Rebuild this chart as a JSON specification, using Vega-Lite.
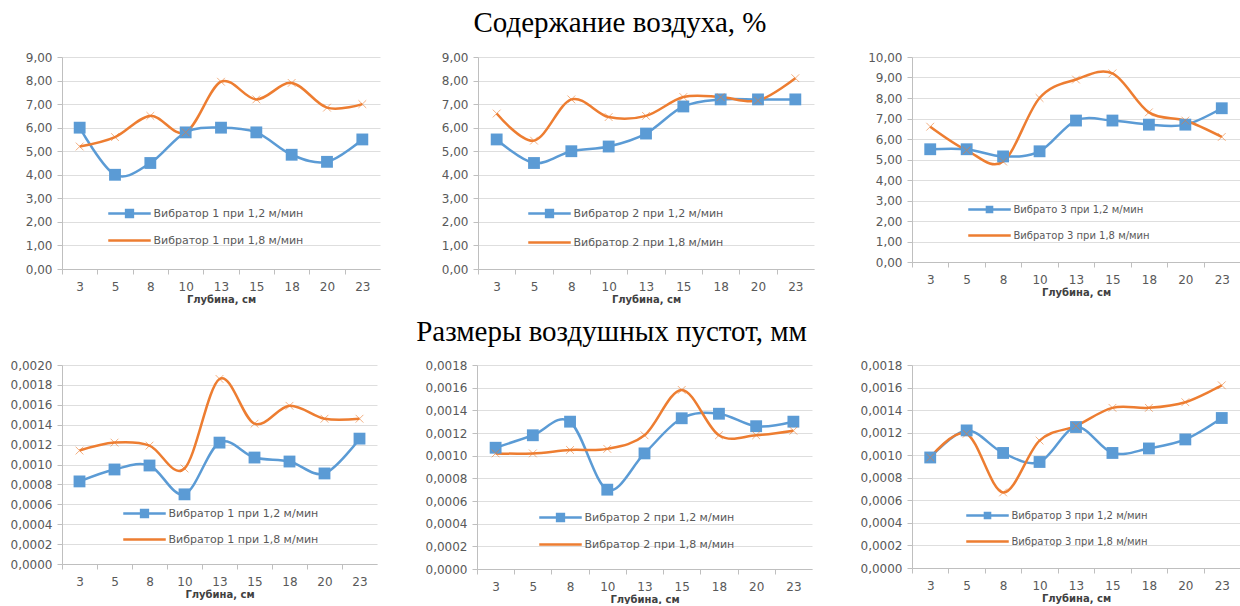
{
  "$schema": "https://vega.github.io/schema/vega-lite/v6.json",
  "background": "white",
  "padding": {"left": 10, "top": 9, "right": 0, "bottom": 0},
  "spacing": 14,
  "datasets": {
    "p1": [
      {"d": 3, "k": "a", "s": "Вибратор 1 при 1,2 м/мин", "v": 6.0},
      {"d": 5, "k": "a", "s": "Вибратор 1 при 1,2 м/мин", "v": 4.0},
      {"d": 8, "k": "a", "s": "Вибратор 1 при 1,2 м/мин", "v": 4.5},
      {"d": 10, "k": "a", "s": "Вибратор 1 при 1,2 м/мин", "v": 5.8},
      {"d": 13, "k": "a", "s": "Вибратор 1 при 1,2 м/мин", "v": 6.0},
      {"d": 15, "k": "a", "s": "Вибратор 1 при 1,2 м/мин", "v": 5.8},
      {"d": 18, "k": "a", "s": "Вибратор 1 при 1,2 м/мин", "v": 4.85},
      {"d": 20, "k": "a", "s": "Вибратор 1 при 1,2 м/мин", "v": 4.55},
      {"d": 23, "k": "a", "s": "Вибратор 1 при 1,2 м/мин", "v": 5.5},
      {"d": 3, "k": "b", "s": "Вибратор 1 при 1,8 м/мин", "v": 5.2},
      {"d": 5, "k": "b", "s": "Вибратор 1 при 1,8 м/мин", "v": 5.6},
      {"d": 8, "k": "b", "s": "Вибратор 1 при 1,8 м/мин", "v": 6.5},
      {"d": 10, "k": "b", "s": "Вибратор 1 при 1,8 м/мин", "v": 5.8},
      {"d": 13, "k": "b", "s": "Вибратор 1 при 1,8 м/мин", "v": 7.95},
      {"d": 15, "k": "b", "s": "Вибратор 1 при 1,8 м/мин", "v": 7.2},
      {"d": 18, "k": "b", "s": "Вибратор 1 при 1,8 м/мин", "v": 7.9},
      {"d": 20, "k": "b", "s": "Вибратор 1 при 1,8 м/мин", "v": 6.85},
      {"d": 23, "k": "b", "s": "Вибратор 1 при 1,8 м/мин", "v": 7.0}
    ],
    "p2": [
      {"d": 3, "k": "a", "s": "Вибратор 2 при 1,2 м/мин", "v": 5.5},
      {"d": 5, "k": "a", "s": "Вибратор 2 при 1,2 м/мин", "v": 4.5},
      {"d": 8, "k": "a", "s": "Вибратор 2 при 1,2 м/мин", "v": 5.0},
      {"d": 10, "k": "a", "s": "Вибратор 2 при 1,2 м/мин", "v": 5.2},
      {"d": 13, "k": "a", "s": "Вибратор 2 при 1,2 м/мин", "v": 5.75},
      {"d": 15, "k": "a", "s": "Вибратор 2 при 1,2 м/мин", "v": 6.9},
      {"d": 18, "k": "a", "s": "Вибратор 2 при 1,2 м/мин", "v": 7.2},
      {"d": 20, "k": "a", "s": "Вибратор 2 при 1,2 м/мин", "v": 7.2},
      {"d": 23, "k": "a", "s": "Вибратор 2 при 1,2 м/мин", "v": 7.2},
      {"d": 3, "k": "b", "s": "Вибратор 2 при 1,8 м/мин", "v": 6.6},
      {"d": 5, "k": "b", "s": "Вибратор 2 при 1,8 м/мин", "v": 5.45},
      {"d": 8, "k": "b", "s": "Вибратор 2 при 1,8 м/мин", "v": 7.2},
      {"d": 10, "k": "b", "s": "Вибратор 2 при 1,8 м/мин", "v": 6.45},
      {"d": 13, "k": "b", "s": "Вибратор 2 при 1,8 м/мин", "v": 6.5},
      {"d": 15, "k": "b", "s": "Вибратор 2 при 1,8 м/мин", "v": 7.3},
      {"d": 18, "k": "b", "s": "Вибратор 2 при 1,8 м/мин", "v": 7.3},
      {"d": 20, "k": "b", "s": "Вибратор 2 при 1,8 м/мин", "v": 7.15},
      {"d": 23, "k": "b", "s": "Вибратор 2 при 1,8 м/мин", "v": 8.1}
    ],
    "p3": [
      {"d": 3, "k": "a", "s": "Вибрато 3 при 1,2 м/мин", "v": 5.5},
      {"d": 5, "k": "a", "s": "Вибрато 3 при 1,2 м/мин", "v": 5.5},
      {"d": 8, "k": "a", "s": "Вибрато 3 при 1,2 м/мин", "v": 5.15},
      {"d": 10, "k": "a", "s": "Вибрато 3 при 1,2 м/мин", "v": 5.4},
      {"d": 13, "k": "a", "s": "Вибрато 3 при 1,2 м/мин", "v": 6.9},
      {"d": 15, "k": "a", "s": "Вибрато 3 при 1,2 м/мин", "v": 6.9},
      {"d": 18, "k": "a", "s": "Вибрато 3 при 1,2 м/мин", "v": 6.7},
      {"d": 20, "k": "a", "s": "Вибрато 3 при 1,2 м/мин", "v": 6.7},
      {"d": 23, "k": "a", "s": "Вибрато 3 при 1,2 м/мин", "v": 7.5},
      {"d": 3, "k": "b", "s": "Вибратор 3 при 1,8 м/мин", "v": 6.6},
      {"d": 5, "k": "b", "s": "Вибратор 3 при 1,8 м/мин", "v": 5.45},
      {"d": 8, "k": "b", "s": "Вибратор 3 при 1,8 м/мин", "v": 4.9},
      {"d": 10, "k": "b", "s": "Вибратор 3 при 1,8 м/мин", "v": 8.0},
      {"d": 13, "k": "b", "s": "Вибратор 3 при 1,8 м/мин", "v": 8.9},
      {"d": 15, "k": "b", "s": "Вибратор 3 при 1,8 м/мин", "v": 9.2},
      {"d": 18, "k": "b", "s": "Вибратор 3 при 1,8 м/мин", "v": 7.3},
      {"d": 20, "k": "b", "s": "Вибратор 3 при 1,8 м/мин", "v": 6.9},
      {"d": 23, "k": "b", "s": "Вибратор 3 при 1,8 м/мин", "v": 6.1}
    ],
    "p4": [
      {"d": 3, "k": "a", "s": "Вибратор 1 при 1,2 м/мин", "v": 0.00083},
      {"d": 5, "k": "a", "s": "Вибратор 1 при 1,2 м/мин", "v": 0.00095},
      {"d": 8, "k": "a", "s": "Вибратор 1 при 1,2 м/мин", "v": 0.00099},
      {"d": 10, "k": "a", "s": "Вибратор 1 при 1,2 м/мин", "v": 0.00070},
      {"d": 13, "k": "a", "s": "Вибратор 1 при 1,2 м/мин", "v": 0.00122},
      {"d": 15, "k": "a", "s": "Вибратор 1 при 1,2 м/мин", "v": 0.00107},
      {"d": 18, "k": "a", "s": "Вибратор 1 при 1,2 м/мин", "v": 0.00103},
      {"d": 20, "k": "a", "s": "Вибратор 1 при 1,2 м/мин", "v": 0.00091},
      {"d": 23, "k": "a", "s": "Вибратор 1 при 1,2 м/мин", "v": 0.00126},
      {"d": 3, "k": "b", "s": "Вибратор 1 при 1,8 м/мин", "v": 0.00114},
      {"d": 5, "k": "b", "s": "Вибратор 1 при 1,8 м/мин", "v": 0.00122},
      {"d": 8, "k": "b", "s": "Вибратор 1 при 1,8 м/мин", "v": 0.00119},
      {"d": 10, "k": "b", "s": "Вибратор 1 при 1,8 м/мин", "v": 0.00096},
      {"d": 13, "k": "b", "s": "Вибратор 1 при 1,8 м/мин", "v": 0.00186},
      {"d": 15, "k": "b", "s": "Вибратор 1 при 1,8 м/мин", "v": 0.00141},
      {"d": 18, "k": "b", "s": "Вибратор 1 при 1,8 м/мин", "v": 0.00159},
      {"d": 20, "k": "b", "s": "Вибратор 1 при 1,8 м/мин", "v": 0.00146},
      {"d": 23, "k": "b", "s": "Вибратор 1 при 1,8 м/мин", "v": 0.00146}
    ],
    "p5": [
      {"d": 3, "k": "a", "s": "Вибратор 2 при 1,2 м/мин", "v": 0.00107},
      {"d": 5, "k": "a", "s": "Вибратор 2 при 1,2 м/мин", "v": 0.00118},
      {"d": 8, "k": "a", "s": "Вибратор 2 при 1,2 м/мин", "v": 0.00130},
      {"d": 10, "k": "a", "s": "Вибратор 2 при 1,2 м/мин", "v": 0.00070},
      {"d": 13, "k": "a", "s": "Вибратор 2 при 1,2 м/мин", "v": 0.00102},
      {"d": 15, "k": "a", "s": "Вибратор 2 при 1,2 м/мин", "v": 0.00133},
      {"d": 18, "k": "a", "s": "Вибратор 2 при 1,2 м/мин", "v": 0.00137},
      {"d": 20, "k": "a", "s": "Вибратор 2 при 1,2 м/мин", "v": 0.00126},
      {"d": 23, "k": "a", "s": "Вибратор 2 при 1,2 м/мин", "v": 0.00130},
      {"d": 3, "k": "b", "s": "Вибратор 2 при 1,8 м/мин", "v": 0.00102},
      {"d": 5, "k": "b", "s": "Вибратор 2 при 1,8 м/мин", "v": 0.00102},
      {"d": 8, "k": "b", "s": "Вибратор 2 при 1,8 м/мин", "v": 0.00105},
      {"d": 10, "k": "b", "s": "Вибратор 2 при 1,8 м/мин", "v": 0.00106},
      {"d": 13, "k": "b", "s": "Вибратор 2 при 1,8 м/мин", "v": 0.00118},
      {"d": 15, "k": "b", "s": "Вибратор 2 при 1,8 м/мин", "v": 0.00158},
      {"d": 18, "k": "b", "s": "Вибратор 2 при 1,8 м/мин", "v": 0.00118},
      {"d": 20, "k": "b", "s": "Вибратор 2 при 1,8 м/мин", "v": 0.00118},
      {"d": 23, "k": "b", "s": "Вибратор 2 при 1,8 м/мин", "v": 0.00122}
    ],
    "p6": [
      {"d": 3, "k": "a", "s": "Вибратор 3 при 1,2 м/мин", "v": 0.00098},
      {"d": 5, "k": "a", "s": "Вибратор 3 при 1,2 м/мин", "v": 0.00122},
      {"d": 8, "k": "a", "s": "Вибратор 3 при 1,2 м/мин", "v": 0.00102},
      {"d": 10, "k": "a", "s": "Вибратор 3 при 1,2 м/мин", "v": 0.00094},
      {"d": 13, "k": "a", "s": "Вибратор 3 при 1,2 м/мин", "v": 0.00125},
      {"d": 15, "k": "a", "s": "Вибратор 3 при 1,2 м/мин", "v": 0.00102},
      {"d": 18, "k": "a", "s": "Вибратор 3 при 1,2 м/мин", "v": 0.00106},
      {"d": 20, "k": "a", "s": "Вибратор 3 при 1,2 м/мин", "v": 0.00114},
      {"d": 23, "k": "a", "s": "Вибратор 3 при 1,2 м/мин", "v": 0.00133},
      {"d": 3, "k": "b", "s": "Вибратор 3 при 1,8 м/мин", "v": 0.00098},
      {"d": 5, "k": "b", "s": "Вибратор 3 при 1,8 м/мин", "v": 0.00119},
      {"d": 8, "k": "b", "s": "Вибратор 3 при 1,8 м/мин", "v": 0.00067},
      {"d": 10, "k": "b", "s": "Вибратор 3 при 1,8 м/мин", "v": 0.00113},
      {"d": 13, "k": "b", "s": "Вибратор 3 при 1,8 м/мин", "v": 0.00126},
      {"d": 15, "k": "b", "s": "Вибратор 3 при 1,8 м/мин", "v": 0.00142},
      {"d": 18, "k": "b", "s": "Вибратор 3 при 1,8 м/мин", "v": 0.00142},
      {"d": 20, "k": "b", "s": "Вибратор 3 при 1,8 м/мин", "v": 0.00147},
      {"d": 23, "k": "b", "s": "Вибратор 3 при 1,8 м/мин", "v": 0.00162}
    ]
  },
  "vconcat": [
    {
      "bounds": "flush",
      "spacing": 98,
      "resolve": {"scale": {"x": "independent", "y": "independent", "color": "independent"}, "legend": {"color": "independent"}},
      "hconcat": [
        {
          "width": 318, "height": 212,
          "data": {"name": "p1"},
          "encoding": {
            "x": {"field": "d", "type": "ordinal", "scale": {"type": "point", "padding": 0.5}, "axis": {"title": "Глубина, см", "tickOffset": -17.7, "labelOffset": 17.7}},
            "y": {"field": "v", "type": "quantitative", "scale": {"domain": [0, 9], "nice": false}, "axis": {"title": null, "values": [0, 1, 2, 3, 4, 5, 6, 7, 8, 9], "format": ".2f"}}
          },
          "layer": [
            {"mark": {"type": "line", "interpolate": "cardinal", "strokeWidth": 2.5},
             "encoding": {"color": {"field": "s", "type": "nominal",
               "scale": {"domain": ["Вибратор 1 при 1,2 м/мин", "Вибратор 1 при 1,8 м/мин"], "range": ["#5B9BD5", "#ED7D31"]},
               "legend": {"orient": "none", "legendX": 57.5, "legendY": 146.5, "title": null, "padding": 0, "symbolType": "M-2.5,0H2.5", "symbolSize": 289, "symbolStrokeWidth": 2.5, "labelOffset": 14, "rowPadding": 8, "labelFont": "DejaVu Sans", "labelFontSize": 11, "labelColor": "#595959",
                 "encode": {"symbols": {"update": {"shape": {"signal": "indexof(datum.value,'1,2')>=0 ? 'M-2.5,0H2.5M-0.4,-0.4H0.4V0.4H-0.4Z' : 'M-2.5,0H2.5'"}, "fill": {"signal": "indexof(datum.value,'1,2')>=0 ? '#5B9BD5' : 'transparent'"}}}}}}}},
            {"transform": [{"filter": "datum.k === 'a'"}], "mark": {"type": "point", "shape": "square", "filled": true, "size": 140, "color": "#5B9BD5", "opacity": 1}},
            {"transform": [{"filter": "datum.k === 'b'"}], "mark": {"type": "point", "shape": "M-1,-1L1,1M-1,1L1,-1", "filled": false, "size": 60, "color": "#ED7D31", "strokeWidth": 1, "opacity": 0.6}}
          ]
        },
        {
          "width": 336, "height": 212,
          "data": {"name": "p2"},
          "title": {"text": "Содержание воздуха, %", "font": "Liberation Serif", "fontSize": 29, "fontWeight": "normal", "color": "#000000", "anchor": "middle", "baseline": "alphabetic", "offset": -10, "dx": -26},
          "encoding": {
            "x": {"field": "d", "type": "ordinal", "scale": {"type": "point", "padding": 0.5}, "axis": {"title": "Глубина, см", "tickOffset": -18.7, "labelOffset": 18.7}},
            "y": {"field": "v", "type": "quantitative", "scale": {"domain": [0, 9], "nice": false}, "axis": {"title": null, "values": [0, 1, 2, 3, 4, 5, 6, 7, 8, 9], "format": ".2f"}}
          },
          "layer": [
            {"mark": {"type": "line", "interpolate": "cardinal", "strokeWidth": 2.5},
             "encoding": {"color": {"field": "s", "type": "nominal",
               "scale": {"domain": ["Вибратор 2 при 1,2 м/мин", "Вибратор 2 при 1,8 м/мин"], "range": ["#5B9BD5", "#ED7D31"]},
               "legend": {"orient": "none", "legendX": 61.5, "legendY": 146.5, "title": null, "padding": 0, "symbolType": "M-2.5,0H2.5", "symbolSize": 289, "symbolStrokeWidth": 2.5, "labelOffset": 14, "rowPadding": 10, "labelFont": "DejaVu Sans", "labelFontSize": 11, "labelColor": "#595959",
                 "encode": {"symbols": {"update": {"shape": {"signal": "indexof(datum.value,'1,2')>=0 ? 'M-2.5,0H2.5M-0.4,-0.4H0.4V0.4H-0.4Z' : 'M-2.5,0H2.5'"}, "fill": {"signal": "indexof(datum.value,'1,2')>=0 ? '#5B9BD5' : 'transparent'"}}}}}}}},
            {"transform": [{"filter": "datum.k === 'a'"}], "mark": {"type": "point", "shape": "square", "filled": true, "size": 140, "color": "#5B9BD5", "opacity": 1}},
            {"transform": [{"filter": "datum.k === 'b'"}], "mark": {"type": "point", "shape": "M-1,-1L1,1M-1,1L1,-1", "filled": false, "size": 60, "color": "#ED7D31", "strokeWidth": 1, "opacity": 0.6}}
          ]
        },
        {
          "width": 328, "height": 205,
          "data": {"name": "p3"},
          "encoding": {
            "x": {"field": "d", "type": "ordinal", "scale": {"type": "point", "padding": 0.5}, "axis": {"title": "Глубина, см", "tickOffset": -18.2, "labelOffset": 18.2}},
            "y": {"field": "v", "type": "quantitative", "scale": {"domain": [0, 10], "nice": false}, "axis": {"title": null, "values": [0, 1, 2, 3, 4, 5, 6, 7, 8, 9, 10], "format": ".2f"}}
          },
          "layer": [
            {"mark": {"type": "line", "interpolate": "cardinal", "strokeWidth": 2.5},
             "encoding": {"color": {"field": "s", "type": "nominal",
               "scale": {"domain": ["Вибрато 3 при 1,2 м/мин", "Вибратор 3 при 1,8 м/мин"], "range": ["#5B9BD5", "#ED7D31"]},
               "legend": {"orient": "none", "legendX": 67.5, "legendY": 142.5, "title": null, "padding": 0, "symbolType": "M-2.5,0H2.5", "symbolSize": 289, "symbolStrokeWidth": 2.5, "labelOffset": 14, "rowPadding": 8, "labelFont": "DejaVu Sans", "labelFontSize": 10, "labelColor": "#595959",
                 "encode": {"symbols": {"update": {"shape": {"signal": "indexof(datum.value,'1,2')>=0 ? 'M-2.5,0H2.5M-0.3,-0.3H0.3V0.3H-0.3Z' : 'M-2.5,0H2.5'"}, "fill": {"signal": "indexof(datum.value,'1,2')>=0 ? '#5B9BD5' : 'transparent'"}}}}}}}},
            {"transform": [{"filter": "datum.k === 'a'"}], "mark": {"type": "point", "shape": "square", "filled": true, "size": 140, "color": "#5B9BD5", "opacity": 1}},
            {"transform": [{"filter": "datum.k === 'b'"}], "mark": {"type": "point", "shape": "M-1,-1L1,1M-1,1L1,-1", "filled": false, "size": 60, "color": "#ED7D31", "strokeWidth": 1, "opacity": 0.6}}
          ]
        }
      ]
    },
    {
      "bounds": "flush",
      "spacing": 100,
      "resolve": {"scale": {"x": "independent", "y": "independent", "color": "independent"}, "legend": {"color": "independent"}},
      "hconcat": [
        {
          "width": 315, "height": 199,
          "data": {"name": "p4"},
          "encoding": {
            "x": {"field": "d", "type": "ordinal", "scale": {"type": "point", "padding": 0.5}, "axis": {"title": "Глубина, см", "tickOffset": -17.5, "labelOffset": 17.5}},
            "y": {"field": "v", "type": "quantitative", "scale": {"domain": [0, 0.002], "nice": false}, "axis": {"title": null, "values": [0, 0.0002, 0.0004, 0.0006, 0.0008, 0.001, 0.0012, 0.0014, 0.0016, 0.0018, 0.002], "format": ".4f"}}
          },
          "layer": [
            {"mark": {"type": "line", "interpolate": "cardinal", "strokeWidth": 2.5},
             "encoding": {"color": {"field": "s", "type": "nominal",
               "scale": {"domain": ["Вибратор 1 при 1,2 м/мин", "Вибратор 1 при 1,8 м/мин"], "range": ["#5B9BD5", "#ED7D31"]},
               "legend": {"orient": "none", "legendX": 72.5, "legendY": 138.5, "title": null, "padding": 0, "symbolType": "M-2.5,0H2.5", "symbolSize": 289, "symbolStrokeWidth": 2.5, "labelOffset": 14, "rowPadding": 7, "labelFont": "DejaVu Sans", "labelFontSize": 11, "labelColor": "#595959",
                 "encode": {"symbols": {"update": {"shape": {"signal": "indexof(datum.value,'1,2')>=0 ? 'M-2.5,0H2.5M-0.4,-0.4H0.4V0.4H-0.4Z' : 'M-2.5,0H2.5'"}, "fill": {"signal": "indexof(datum.value,'1,2')>=0 ? '#5B9BD5' : 'transparent'"}}}}}}}},
            {"transform": [{"filter": "datum.k === 'a'"}], "mark": {"type": "point", "shape": "square", "filled": true, "size": 140, "color": "#5B9BD5", "opacity": 1}},
            {"transform": [{"filter": "datum.k === 'b'"}], "mark": {"type": "point", "shape": "M-1,-1L1,1M-1,1L1,-1", "filled": false, "size": 60, "color": "#ED7D31", "strokeWidth": 1, "opacity": 0.6}}
          ]
        },
        {
          "width": 335, "height": 204,
          "data": {"name": "p5"},
          "title": {"text": "Размеры воздушных пустот, мм", "font": "Liberation Serif", "fontSize": 29, "fontWeight": "normal", "color": "#000000", "anchor": "middle", "baseline": "alphabetic", "offset": -11, "dx": -33},
          "encoding": {
            "x": {"field": "d", "type": "ordinal", "scale": {"type": "point", "padding": 0.5}, "axis": {"title": "Глубина, см", "tickOffset": -18.6, "labelOffset": 18.6}},
            "y": {"field": "v", "type": "quantitative", "scale": {"domain": [0, 0.0018], "nice": false}, "axis": {"title": null, "values": [0, 0.0002, 0.0004, 0.0006, 0.0008, 0.001, 0.0012, 0.0014, 0.0016, 0.0018], "format": ".4f"}}
          },
          "layer": [
            {"mark": {"type": "line", "interpolate": "cardinal", "strokeWidth": 2.5},
             "encoding": {"color": {"field": "s", "type": "nominal",
               "scale": {"domain": ["Вибратор 2 при 1,2 м/мин", "Вибратор 2 при 1,8 м/мин"], "range": ["#5B9BD5", "#ED7D31"]},
               "legend": {"orient": "none", "legendX": 73.5, "legendY": 142.5, "title": null, "padding": 0, "symbolType": "M-2.5,0H2.5", "symbolSize": 289, "symbolStrokeWidth": 2.5, "labelOffset": 14, "rowPadding": 8, "labelFont": "DejaVu Sans", "labelFontSize": 11, "labelColor": "#595959",
                 "encode": {"symbols": {"update": {"shape": {"signal": "indexof(datum.value,'1,2')>=0 ? 'M-2.5,0H2.5M-0.4,-0.4H0.4V0.4H-0.4Z' : 'M-2.5,0H2.5'"}, "fill": {"signal": "indexof(datum.value,'1,2')>=0 ? '#5B9BD5' : 'transparent'"}}}}}}}},
            {"transform": [{"filter": "datum.k === 'a'"}], "mark": {"type": "point", "shape": "square", "filled": true, "size": 140, "color": "#5B9BD5", "opacity": 1}},
            {"transform": [{"filter": "datum.k === 'b'"}], "mark": {"type": "point", "shape": "M-1,-1L1,1M-1,1L1,-1", "filled": false, "size": 60, "color": "#ED7D31", "strokeWidth": 1, "opacity": 0.6}}
          ]
        },
        {
          "width": 328, "height": 203,
          "data": {"name": "p6"},
          "encoding": {
            "x": {"field": "d", "type": "ordinal", "scale": {"type": "point", "padding": 0.5}, "axis": {"title": "Глубина, см", "tickOffset": -18.2, "labelOffset": 18.2}},
            "y": {"field": "v", "type": "quantitative", "scale": {"domain": [0, 0.0018], "nice": false}, "axis": {"title": null, "values": [0, 0.0002, 0.0004, 0.0006, 0.0008, 0.001, 0.0012, 0.0014, 0.0016, 0.0018], "format": ".4f"}}
          },
          "layer": [
            {"mark": {"type": "line", "interpolate": "cardinal", "strokeWidth": 2.5},
             "encoding": {"color": {"field": "s", "type": "nominal",
               "scale": {"domain": ["Вибратор 3 при 1,2 м/мин", "Вибратор 3 при 1,8 м/мин"], "range": ["#5B9BD5", "#ED7D31"]},
               "legend": {"orient": "none", "legendX": 65.5, "legendY": 140.5, "title": null, "padding": 0, "symbolType": "M-2.5,0H2.5", "symbolSize": 289, "symbolStrokeWidth": 2.5, "labelOffset": 14, "rowPadding": 8, "labelFont": "DejaVu Sans", "labelFontSize": 10, "labelColor": "#595959",
                 "encode": {"symbols": {"update": {"shape": {"signal": "indexof(datum.value,'1,2')>=0 ? 'M-2.5,0H2.5M-0.3,-0.3H0.3V0.3H-0.3Z' : 'M-2.5,0H2.5'"}, "fill": {"signal": "indexof(datum.value,'1,2')>=0 ? '#5B9BD5' : 'transparent'"}}}}}}}},
            {"transform": [{"filter": "datum.k === 'a'"}], "mark": {"type": "point", "shape": "square", "filled": true, "size": 140, "color": "#5B9BD5", "opacity": 1}},
            {"transform": [{"filter": "datum.k === 'b'"}], "mark": {"type": "point", "shape": "M-1,-1L1,1M-1,1L1,-1", "filled": false, "size": 60, "color": "#ED7D31", "strokeWidth": 1, "opacity": 0.6}}
          ]
        }
      ]
    }
  ],
  "resolve": {"scale": {"x": "independent", "y": "independent", "color": "independent"}, "legend": {"color": "independent"}},
  "config": {
    "locale": {"number": {"decimal": ",", "thousands": " ", "grouping": [3], "currency": ["", ""]}},
    "view": {"stroke": null},
    "font": "DejaVu Sans",
    "axis": {"labelFont": "DejaVu Sans", "labelFontSize": 12, "labelColor": "#595959", "domainColor": "#bfbfbf", "tickColor": "#bfbfbf", "tickSize": 5, "gridColor": "#dedede", "titleFont": "DejaVu Sans", "titleFontSize": 10, "titleFontWeight": "bold", "titleColor": "#404040"},
    "axisX": {"grid": false, "labelAngle": 0, "labelPadding": 7, "titlePadding": 2},
    "axisY": {"grid": true, "labelPadding": 5}
  }
}
